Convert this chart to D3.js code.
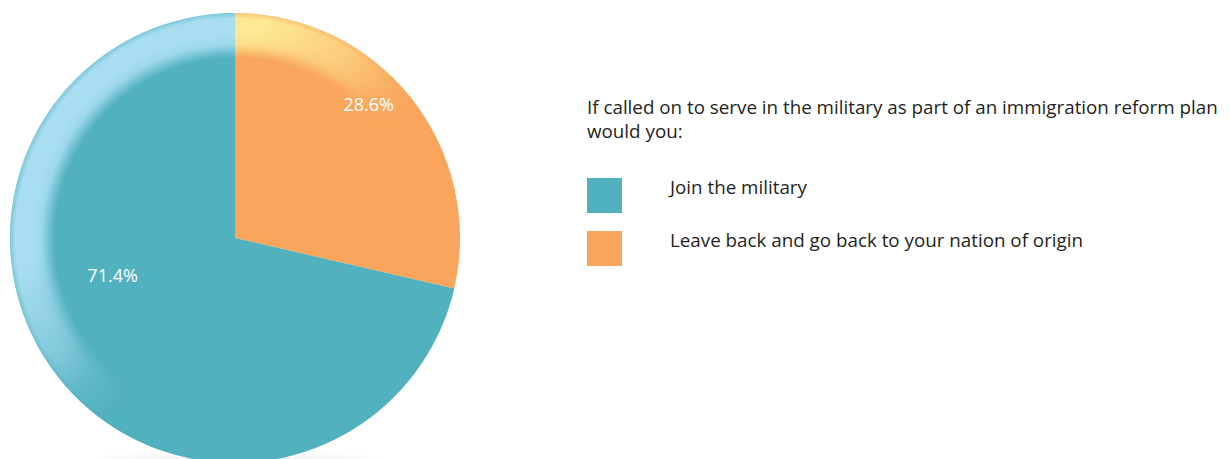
<!DOCTYPE html>
<html>
<head>
<meta charset="utf-8">
<script src="https://cdn.jsdelivr.net/npm/d3@7"></script>
<style>
  html, body { margin: 0; padding: 0; background: #ffffff; }
  svg { display: block; }
  text { font-family: "Open Sans", "Noto Sans", sans-serif; }
</style>
</head>
<body>
<svg id="chart" width="1230" height="459"></svg>
<script>
// Survey answers and their shares (percent)
const categories = ["Join the military", "Leave back and go back to your nation of origin"];
const values = [71.4, 28.6];
const valueLabels = ["71.4%", "28.6%"];
const title = ["If called on to serve in the military as part of an immigration reform plan", "would you:"];

const baseColors = ["#52b1bf", "#f9a55b"];
const rimColors = ["#a9def2", "#fde893"];

const W = 1230, H = 459;
const cx = 235, cy = 238, R = 225;

const svg = d3.select("#chart");
const defs = svg.append("defs");

// soft ground shadow under the disc
const blur = defs.append("filter").attr("id", "soft").attr("x", "-50%").attr("y", "-50%").attr("width", "200%").attr("height", "200%");
blur.append("feGaussianBlur").attr("stdDeviation", 4);

// rim highlight: radial band near the edge
rimColors.forEach((c, i) => {
  const g = defs.append("radialGradient")
    .attr("id", "rim" + i)
    .attr("gradientUnits", "userSpaceOnUse")
    .attr("cx", 0).attr("cy", 0).attr("r", R);
  g.append("stop").attr("offset", 0.8).attr("stop-color", c).attr("stop-opacity", 0);
  g.append("stop").attr("offset", 0.86).attr("stop-color", c).attr("stop-opacity", 0.85);
  g.append("stop").attr("offset", 0.9).attr("stop-color", c).attr("stop-opacity", 1);
  g.append("stop").attr("offset", 0.975).attr("stop-color", c).attr("stop-opacity", 1);
  g.append("stop").attr("offset", 1).attr("stop-color", c).attr("stop-opacity", 0.5);
});

// light comes from the upper left
const lg = defs.append("linearGradient")
  .attr("id", "lightDir")
  .attr("gradientUnits", "userSpaceOnUse")
  .attr("x1", -R * 0.72).attr("y1", -R * 0.72)
  .attr("x2", R * 0.72).attr("y2", R * 0.72);
lg.append("stop").attr("offset", 0).attr("stop-color", "#fff").attr("stop-opacity", 1);
lg.append("stop").attr("offset", 0.22).attr("stop-color", "#fff").attr("stop-opacity", 1);
lg.append("stop").attr("offset", 0.4).attr("stop-color", "#fff").attr("stop-opacity", 0.55);
lg.append("stop").attr("offset", 0.5).attr("stop-color", "#fff").attr("stop-opacity", 0.15);
lg.append("stop").attr("offset", 0.58).attr("stop-color", "#fff").attr("stop-opacity", 0);
lg.append("stop").attr("offset", 1).attr("stop-color", "#fff").attr("stop-opacity", 0);

const mask = defs.append("mask").attr("id", "lightMask")
  .attr("maskUnits", "userSpaceOnUse")
  .attr("x", -R - 5).attr("y", -R - 5).attr("width", 2 * R + 10).attr("height", 2 * R + 10);
mask.append("rect")
  .attr("x", -R - 5).attr("y", -R - 5).attr("width", 2 * R + 10).attr("height", 2 * R + 10)
  .attr("fill", "url(#lightDir)");

svg.append("ellipse")
  .attr("cx", cx + 2).attr("cy", cy + R + 2)
  .attr("rx", R * 0.62).attr("ry", 7)
  .attr("fill", "#d9d9d9")
  .attr("opacity", 0.6)
  .attr("filter", "url(#soft)");

const g = svg.append("g").attr("transform", `translate(${cx},${cy})`);

// clockwise from 12 o'clock, the smaller share first
const order = [1, 0];
const pie = d3.pie().sort(null).value(i => values[i]);
const arcs = pie(order);
const arc = d3.arc().innerRadius(0).outerRadius(R);

g.selectAll("path.slice")
  .data(arcs)
  .join("path")
  .attr("class", "slice")
  .attr("d", arc)
  .attr("fill", d => baseColors[d.data]);

const hl = g.append("g").attr("mask", "url(#lightMask)");
hl.selectAll("path.rim")
  .data(arcs)
  .join("path")
  .attr("class", "rim")
  .attr("d", arc)
  .attr("fill", d => `url(#rim${d.data})`);

// percentage labels (polar placement per slice)
const labelPos = { 1: { a: 45, r: 189 }, 0: { a: 253, r: 128 } };
g.selectAll("text.val")
  .data(arcs)
  .join("text")
  .attr("class", "val")
  .attr("x", d => labelPos[d.data].r * Math.sin(labelPos[d.data].a * Math.PI / 180))
  .attr("y", d => -labelPos[d.data].r * Math.cos(labelPos[d.data].a * Math.PI / 180))
  .attr("dy", "0.35em")
  .attr("text-anchor", "middle")
  .attr("fill", "#ffffff")
  .attr("font-size", 18)
  .text(d => valueLabels[d.data]);

// title and legend
const tx = 587;
svg.selectAll("text.title")
  .data(title)
  .join("text")
  .attr("class", "title")
  .attr("x", tx)
  .attr("y", (d, i) => 114 + i * 24)
  .attr("fill", "#231f20")
  .attr("font-size", 18.8)
  .text(d => d);

const leg = svg.selectAll("g.leg")
  .data(categories)
  .join("g")
  .attr("class", "leg")
  .attr("transform", (d, i) => `translate(${tx},${178 + i * 53})`);
leg.append("rect")
  .attr("width", 35).attr("height", 35)
  .attr("fill", (d, i) => baseColors[i]);
leg.append("text")
  .attr("x", 83).attr("y", 16)
  .attr("fill", "#231f20")
  .attr("font-size", 18.8)
  .text(d => d);
</script>
</body>
</html>
